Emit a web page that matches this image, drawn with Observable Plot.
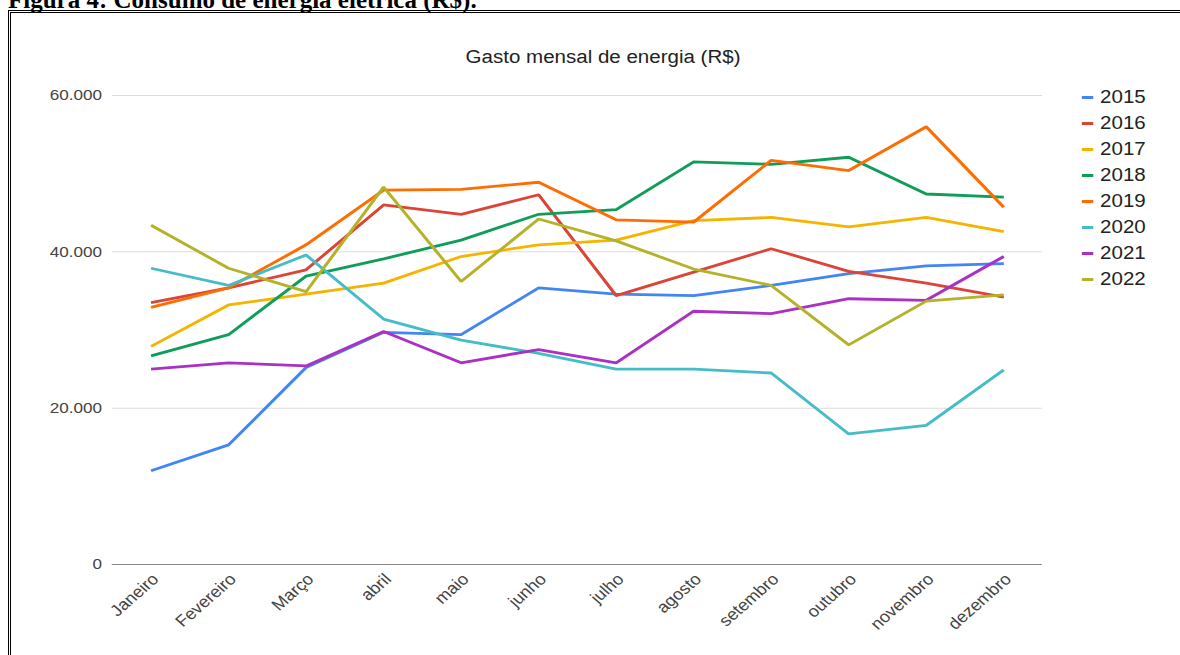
<!DOCTYPE html>
<html>
<head>
<meta charset="utf-8">
<script src="https://cdn.jsdelivr.net/npm/d3@7"></script>
<script src="https://cdn.jsdelivr.net/npm/@observablehq/plot@0.6"></script>
<style>
  html, body { margin: 0; padding: 0; background: #fff; }
  body { width: 1180px; height: 655px; overflow: hidden; position: relative; }
  #heading { position: absolute; left: 8px; top: -13px; font: bold 25px/25px "Liberation Serif", "Times New Roman", serif; color: #000; white-space: nowrap; }
  #frame { position: absolute; left: 8px; top: 10px; width: 1300px; height: 800px; border: 3px double #000; box-sizing: border-box; }
  #stretch { position: absolute; left: 0; top: 0; width: 1035px; height: 655px; transform: scaleX(1.14); transform-origin: 0 0; }
  #chart { position: absolute; left: 0; top: 0; }
  #title { position: absolute; left: 0; width: 1058px; top: 47px; text-align: center; font: 18px/20px "Liberation Sans", Arial, sans-serif; color: #222; white-space: nowrap; }
  #legend { position: absolute; left: 949px; top: 84px; font: 18px/26px "Liberation Sans", Arial, sans-serif; color: #222; }
  #legend .row { height: 26px; white-space: nowrap; }
  #legend .sw { display: inline-block; width: 10px; height: 3px; vertical-align: middle; margin-right: 6px; position: relative; top: -1px; }
</style>
</head>
<body>
<div id="heading">Figura 4: Consumo de energia elétrica (R$).</div>
<div id="frame"></div>
<div id="stretch">
  <div id="chart"></div>
  <div id="title">Gasto mensal de energia (R$)</div>
  <div id="legend"></div>
</div>
<script>
const months = ["Janeiro","Fevereiro","Março","abril","maio","junho","julho","agosto","setembro","outubro","novembro","dezembro"];
const years = ["2015","2016","2017","2018","2019","2020","2021","2022"];
const colors = ["#4285F4","#DB4437","#F4B400","#0F9D58","#FF6D00","#46BDC6","#AB30C4","#B5B22A"];

const v2015 = [12000, 15300, 25200, 29700, 29400, 35400, 34600, 34400, 35700, 37200, 38200, 38500];
const v2016 = [33500, 35400, 37700, 46000, 44800, 47300, 34400, 37400, 40400, 37500, 36000, 34200];
const v2017 = [27900, 33200, 34600, 36000, 39400, 40900, 41500, 44000, 44400, 43200, 44400, 42600];
const v2018 = [26700, 29400, 36900, 39100, 41500, 44800, 45400, 51500, 51200, 52100, 47400, 47000];
const v2019 = [32900, 35400, 40900, 47900, 48000, 48900, 44100, 43800, 51700, 50400, 56000, 45700];
const v2020 = [37900, 35700, 39600, 31400, 28700, 27000, 25000, 25000, 24500, 16700, 17800, 24900];
const v2021 = [25000, 25800, 25400, 29800, 25800, 27500, 25800, 32400, 32100, 34000, 33800, 39400];
const v2022 = [43400, 37900, 34900, 48300, 36200, 44200, 41400, 37800, 35700, 28100, 33700, 34500];

const yTicks = [0, 20000, 40000, 60000];
const yTickLabels = ["0", "20.000", "40.000", "60.000"];

const series = [v2015, v2016, v2017, v2018, v2019, v2020, v2021, v2022];
const rows = [];
series.forEach((vals, si) => {
  vals.forEach((v, mi) => rows.push({year: years[si], month: months[mi], value: v}));
});

const W = 1035;
const plot = Plot.plot({
  width: W,
  height: 655,
  marginLeft: 98,
  marginRight: W - 914,
  marginTop: 95,
  marginBottom: 91,
  style: {fontFamily: "'Liberation Sans', Arial, sans-serif", background: "transparent", color: "#444"},
  x: {domain: months, type: "point", padding: 0.5},
  y: {domain: [0, 60000]},
  color: {domain: years, range: colors},
  marks: [
    Plot.ruleY(yTicks.filter(d => d > 0), {stroke: "#dcdcdc", strokeWidth: 1}),
    Plot.ruleY([0], {stroke: "#8a8a8a", strokeWidth: 1.2}),
    Plot.line(rows, {x: "month", y: "value", z: "year", stroke: "year", strokeWidth: 2.8, strokeLinejoin: "miter", strokeLinecap: "butt"}),
    Plot.axisY({ticks: yTicks, tickFormat: d => yTickLabels[yTicks.indexOf(d)], tickSize: 0, tickPadding: 9, fontSize: 15, fill: "#444", label: null}),
    Plot.axisX({tickSize: 0, tickPadding: 12, dx: 4, tickRotate: -45, fontSize: 16, fill: "#444", label: null})
  ]
});
document.getElementById("chart").appendChild(plot);

const legend = document.getElementById("legend");
years.forEach((y, i) => {
  const row = document.createElement("div");
  row.className = "row";
  const sw = document.createElement("span");
  sw.className = "sw";
  sw.style.background = colors[i];
  row.appendChild(sw);
  row.appendChild(document.createTextNode(y));
  legend.appendChild(row);
});
</script>
</body>
</html>
